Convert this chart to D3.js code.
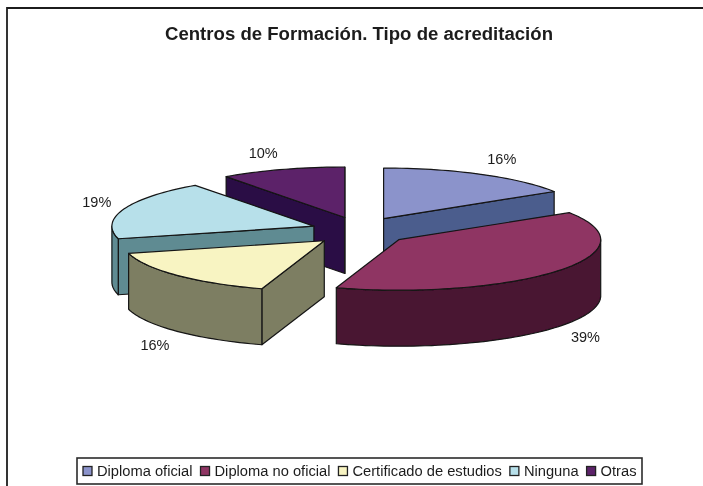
<!DOCTYPE html>
<html>
<head>
<meta charset="utf-8">
<script src="https://cdn.jsdelivr.net/npm/d3@7"></script>
<style>
  html, body { margin: 0; padding: 0; background: #fff; }
  text { font-family: "Liberation Sans", Arial, sans-serif; fill: #1c1c1c; }
</style>
</head>
<body>
<div class="visualisation"></div>
<script>
// Chart data
const categories = ["Diploma oficial", "Diploma no oficial", "Certificado de estudios", "Ninguna", "Otras"];
const percentages = [16, 39, 16, 19, 10];
const topColors = ["#8b93cb", "#8f3564", "#f8f4c2", "#b7e0ea", "#5c2369"];
const sideColors = ["#4c5d8d", "#4a1233", "#7d7e62", "#5f8b92", "#2b0b45"];
const chartTitle = "Centros de Formación. Tipo de acreditación";

// Size related variables
const width = 703;
const height = 486;
const center = [360, 231];
const radius = 202;
const tilt = 0.25;
const explodeTilt = 0.29;
const depth = 56;
const explode = 49;
const labelRadius = [235, 68];
// hand tuned label shifts, same order as the categories
const labelShift = [[5, 0], [1, 0], [2, 2], [4, -1], [-9, 0]];
// back to front
const drawOrder = [4, 0, 3, 2, 1];

const svg = d3.select(".visualisation")
    .append("svg")
    .attr("width", width)
    .attr("height", height)
    .attr("viewBox", `0 0 ${width} ${height}`)
    .style("display", "block");

svg.append("defs").append("filter")
    .attr("id", "soft")
    .append("feGaussianBlur")
    .attr("stdDeviation", 0.55);

const chart = svg.append("g").attr("filter", "url(#soft)");

// Frame, only the top and left edges show
chart.append("path")
    .attr("d", d3.line()([[7, height], [7, 8], [width, 8]]))
    .attr("fill", "none")
    .attr("stroke", "#1f1f1f")
    .attr("stroke-width", 1.8);

chart.append("text")
    .attr("x", 359)
    .attr("y", 40)
    .attr("text-anchor", "middle")
    .attr("font-size", 18)
    .attr("font-weight", "bold")
    .attr("textLength", 388)
    .attr("lengthAdjust", "spacingAndGlyphs")
    .text(chartTitle);

const arcs = d3.pie().sort(null).startAngle(0).endAngle(2 * Math.PI)(percentages);

const line = d3.line();

// Project a polar position of the pie plate to the screen
function project(apex, angle, r, drop) {
    return [
        apex[0] + r * Math.sin(angle),
        apex[1] - r * tilt * Math.cos(angle) + drop
    ];
}

function arcPoints(apex, a0, a1, drop) {
    const steps = Math.max(2, Math.ceil((a1 - a0) / 0.03));
    return d3.range(steps + 1).map(i => project(apex, a0 + (a1 - a0) * i / steps, radius, drop));
}

function midAngle(d) {
    return (d.startAngle + d.endAngle) / 2;
}

function apexOf(d) {
    const mid = midAngle(d);
    return [
        center[0] + explode * Math.sin(mid),
        center[1] - explode * explodeTilt * Math.cos(mid)
    ];
}

function addShape(g, points, fill) {
    g.append("path")
        .attr("d", line(points) + "Z")
        .attr("fill", fill)
        .attr("stroke", "#141414")
        .attr("stroke-width", 1.2)
        .attr("stroke-linejoin", "round");
}

function drawSlice(d) {
    const g = chart.append("g").attr("class", "slice");
    const apex = apexOf(d);
    const side = sideColors[d.index];
    const a0 = d.startAngle;
    const a1 = d.endAngle;
    const startEnd = project(apex, a0, radius, 0);
    const finishEnd = project(apex, a1, radius, 0);

    // Cut faces, only the ones turned to the viewer
    if (Math.sin(a0) < 0) {
        addShape(g, [apex, startEnd, [startEnd[0], startEnd[1] + depth], [apex[0], apex[1] + depth]], side);
    }
    if (Math.sin(a1) > 0) {
        addShape(g, [apex, finishEnd, [finishEnd[0], finishEnd[1] + depth], [apex[0], apex[1] + depth]], side);
    }

    // Outer wall between 90 and 270 degrees
    const w0 = Math.max(a0, Math.PI / 2);
    const w1 = Math.min(a1, 1.5 * Math.PI);
    if (w1 > w0) {
        addShape(g, arcPoints(apex, w0, w1, 0).concat(arcPoints(apex, w0, w1, depth).reverse()), side);
    }

    // Top plate
    addShape(g, [apex].concat(arcPoints(apex, a0, a1, 0)), topColors[d.index]);
}

drawOrder.forEach(i => drawSlice(arcs[i]));

// Percentage labels
chart.append("g")
    .selectAll("text")
    .data(arcs)
    .join("text")
    .attr("text-anchor", "middle")
    .attr("font-size", 14.5)
    .attr("x", d => apexOf(d)[0] + labelRadius[0] * Math.sin(midAngle(d)) + labelShift[d.index][0])
    .attr("y", d => {
        const mid = midAngle(d);
        const below = Math.cos(mid) < 0 ? depth : 0;
        return apexOf(d)[1] - labelRadius[1] * Math.cos(mid) + below + 5 + labelShift[d.index][1];
    })
    .text(d => d.data + "%");

// Legend
const legend = chart.append("g").attr("class", "legend");
legend.append("rect")
    .attr("x", 77)
    .attr("y", 458)
    .attr("width", 565)
    .attr("height", 26)
    .attr("fill", "#fff")
    .attr("stroke", "#2b2b2b")
    .attr("stroke-width", 1.6);

let legendX = 83;
categories.forEach((name, i) => {
    legend.append("rect")
        .attr("x", legendX)
        .attr("y", 466.5)
        .attr("width", 9)
        .attr("height", 9)
        .attr("fill", topColors[i])
        .attr("stroke", "#222")
        .attr("stroke-width", 1.3);
    const label = legend.append("text")
        .attr("x", legendX + 14)
        .attr("y", 476)
        .attr("font-size", 14.7)
        .text(name);
    legendX += 14 + label.node().getComputedTextLength() + 8;
});
</script>
</body>
</html>
